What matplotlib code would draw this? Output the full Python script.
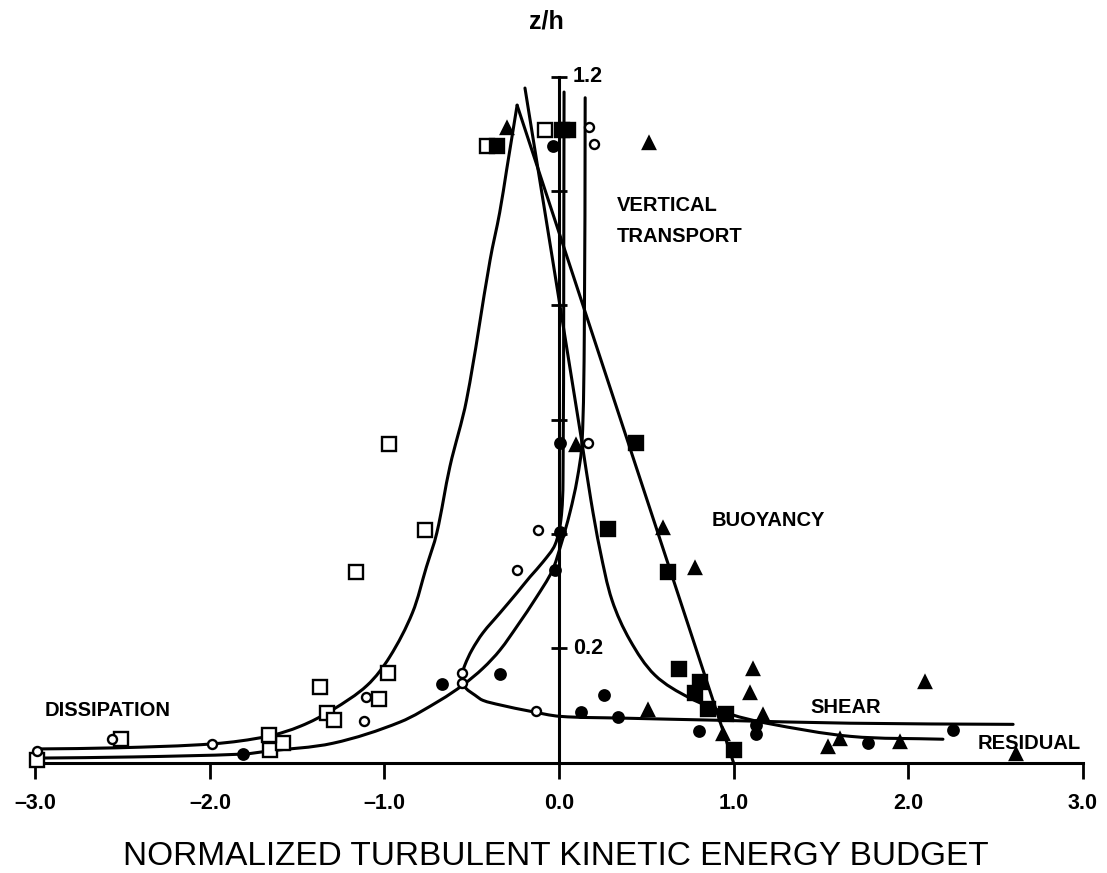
import matplotlib
matplotlib.use("Agg")
import numpy as np
import matplotlib.pyplot as plt
from matplotlib.path import Path
from matplotlib.patches import PathPatch

# ---- curves (x = normalized budget term, z = z/h) ----
dissipation_x = [-2.99, -2.53, -1.98, -1.67, -1.48, -1.30, -1.10, -0.97, -0.84, -0.76, -0.70, -0.625, -0.53, -0.395, -0.34, -0.30, -0.24]
dissipation_z = [0.024, 0.026, 0.033, 0.046, 0.064, 0.092, 0.135, 0.185, 0.262, 0.342, 0.402, 0.518, 0.634, 0.879, 0.962, 1.037, 1.150]

buoyancy_x = [-0.24, 1.00]
buoyancy_z = [1.150, 0.0]

transport_x = [0.150, 0.145, 0.132, 0.103, 0.063, 0.011, -0.040, -0.132, -0.235, -0.338, -0.436, -0.550, -0.682, -0.911, -1.295, -1.673, -1.811, -2.441, -2.991]
transport_z = [1.163, 0.750, 0.559, 0.494, 0.438, 0.381, 0.335, 0.288, 0.241, 0.197, 0.165, 0.136, 0.109, 0.071, 0.034, 0.020, 0.015, 0.010, 0.008]

shear_x = [0.029, 0.023, 0.011, -0.023, -0.092, -0.166, -0.241, -0.338, -0.436, -0.499, -0.539, -0.556, -0.556, -0.533, -0.481, -0.436, -0.338, -0.166, 0.006, 0.350, 0.940, 1.668, 2.602]
shear_z = [1.173, 0.494, 0.425, 0.381, 0.351, 0.325, 0.297, 0.262, 0.227, 0.197, 0.171, 0.153, 0.143, 0.130, 0.118, 0.109, 0.101, 0.090, 0.081, 0.078, 0.074, 0.069, 0.067]

residual_x = [-0.195, 0.132, 0.183, 0.235, 0.304, 0.407, 0.550, 0.750, 0.980, 1.190, 1.670, 2.200]
residual_z = [1.180, 0.559, 0.459, 0.372, 0.284, 0.214, 0.153, 0.113, 0.085, 0.069, 0.046, 0.041]

# ---- observations ----
open_sq_x = [-0.414, -0.08, -0.974, -0.768, -1.163, -0.978, -1.37, -1.03, -1.33, -1.29, -2.51, -1.657, -1.583, -1.66, -2.99]
open_sq_z = [1.079, 1.107, 0.557, 0.407, 0.334, 0.156, 0.133, 0.112, 0.087, 0.074, 0.041, 0.023, 0.034, 0.048, 0.005]

filled_sq_x = [-0.357, 0.02, 0.05, 0.441, 0.279, 0.626, 0.688, 0.808, 0.779, 0.856, 0.957, 1.003]
filled_sq_z = [1.079, 1.107, 1.107, 0.560, 0.408, 0.334, 0.164, 0.141, 0.122, 0.093, 0.085, 0.022]

open_circ_x = [0.174, 0.20, -0.122, -0.239, 0.168, -0.557, -0.557, -0.132, -1.108, -1.12, -2.56, -1.99, -2.99]
open_circ_z = [1.111, 1.082, 0.407, 0.337, 0.559, 0.157, 0.139, 0.091, 0.114, 0.073, 0.042, 0.032, 0.021]

filled_circ_x = [-0.035, 0.006, 0.006, -0.023, -0.67, -0.338, 0.258, 0.34, 0.124, 0.80, 1.13, 1.13, 1.773, 2.26, -1.81]
filled_circ_z = [1.078, 0.559, 0.403, 0.337, 0.137, 0.155, 0.118, 0.080, 0.088, 0.056, 0.065, 0.050, 0.035, 0.057, 0.015]

tri_x = [-0.30, 0.516, 0.10, 0.594, 0.78, 0.512, 0.94, 1.114, 1.095, 1.17, 1.54, 1.61, 2.097, 1.954, 2.62]
tri_z = [1.110, 1.083, 0.556, 0.410, 0.340, 0.092, 0.051, 0.163, 0.121, 0.083, 0.027, 0.042, 0.141, 0.036, 0.016]

x_ticks = [-3.0, -2.0, -1.0, 0.0, 1.0, 2.0, 3.0]
x_tick_labels = ["\u20133.0", "\u20132.0", "\u20131.0", "0.0", "1.0", "2.0", "3.0"]
z_ticks = [0.2, 0.4, 0.6, 0.8, 1.0, 1.2]

FONT = ["Liberation Sans", "DejaVu Sans"]
plt.rcParams["font.family"] = FONT

fig = plt.figure(figsize=(11.07, 8.73), dpi=100)
ax = fig.add_axes([0, 0, 1, 1])
ax.set_xlim(-3.203, 3.140)
ax.set_ylim(-0.193, 1.334)
ax.patch.set_alpha(0)


def smooth_curve(xs, zs):
    """Smooth Bezier path through the given points (tangents taken in screen space)."""
    to_px = ax.transData.transform
    from_px = ax.transData.inverted().transform
    P = to_px(np.column_stack([xs, zs]))
    n = len(P)
    if n == 2:
        return Path(from_px(P), [Path.MOVETO, Path.LINETO])
    d = np.zeros_like(P)
    for i in range(n):
        a = P[max(i - 1, 0)]
        b = P[min(i + 1, n - 1)]
        v = b - a
        d[i] = v / np.hypot(*v)
    verts = [P[0]]
    codes = [Path.MOVETO]
    for i in range(n - 1):
        L = np.hypot(*(P[i + 1] - P[i]))
        verts += [P[i] + d[i] * L / 3, P[i + 1] - d[i + 1] * L / 3, P[i + 1]]
        codes += [Path.CURVE4] * 3
    return Path(from_px(np.array(verts)), codes)


# axes drawn through the origin
for side in ("top", "right"):
    ax.spines[side].set_visible(False)
ax.spines["bottom"].set_position(("data", 0))
ax.spines["bottom"].set_bounds(-3, 3)
ax.spines["left"].set_position(("data", 0))
ax.spines["left"].set_bounds(0, 1.2)
for side in ("bottom", "left"):
    ax.spines[side].set_linewidth(2.2)

ax.set_xticks(x_ticks)
ax.set_xticklabels(x_tick_labels, fontsize=15.5, fontweight="bold")
ax.tick_params(axis="x", direction="out", length=11.5, width=2.0, pad=10)
ax.set_yticks(z_ticks)
ax.set_yticklabels([])
ax.tick_params(axis="y", direction="inout", length=11, width=2.0)

ax.text(0.08, 1.2, "1.2", fontsize=15.5, fontweight="bold", ha="left", va="center")
ax.text(0.08, 0.2, "0.2", fontsize=15.5, fontweight="bold", ha="left", va="center")

lw = 2.2
for xs, zs in [(dissipation_x, dissipation_z), (buoyancy_x, buoyancy_z),
               (transport_x, transport_z), (shear_x, shear_z),
               (residual_x, residual_z)]:
    ax.add_patch(PathPatch(smooth_curve(xs, zs), facecolor="none", edgecolor="black",
                           lw=lw, capstyle="round", joinstyle="round", zorder=2))

mew = 1.7
ax.plot(open_sq_x, open_sq_z, ls="none", marker="s", ms=9.5, mfc="white", mec="black", mew=mew, zorder=3)
ax.plot(filled_sq_x, filled_sq_z, ls="none", marker="s", ms=9.5, mfc="black", mec="black", mew=mew, zorder=3)
ax.plot(open_circ_x, open_circ_z, ls="none", marker="o", ms=6.5, mfc="white", mec="black", mew=mew, zorder=3)
ax.plot(filled_circ_x, filled_circ_z, ls="none", marker="o", ms=7.5, mfc="black", mec="black", mew=mew, zorder=3)
ax.plot(tri_x, tri_z, ls="none", marker="^", ms=9, mfc="black", mec="black", mew=mew, zorder=3)

lab = dict(fontsize=14.5, fontweight="bold", ha="left", va="center")
ax.text(0.332, 0.975, "VERTICAL", **lab)
ax.text(0.332, 0.921, "TRANSPORT", **lab)
ax.text(0.877, 0.424, "BUOYANCY", **lab)
ax.text(1.438, 0.097, "SHEAR", **lab)
ax.text(2.40, 0.034, "RESIDUAL", **lab)
ax.text(-2.95, 0.092, "DISSIPATION", **lab)

ax.text(-0.074, 1.296, "z/h", fontsize=18, fontweight="bold", ha="center", va="center")
ax.text(-0.02, -0.165, "NORMALIZED TURBULENT KINETIC ENERGY BUDGET", fontsize=24, ha="center", va="center")

fig.savefig("out.png", dpi=100, facecolor="white")
